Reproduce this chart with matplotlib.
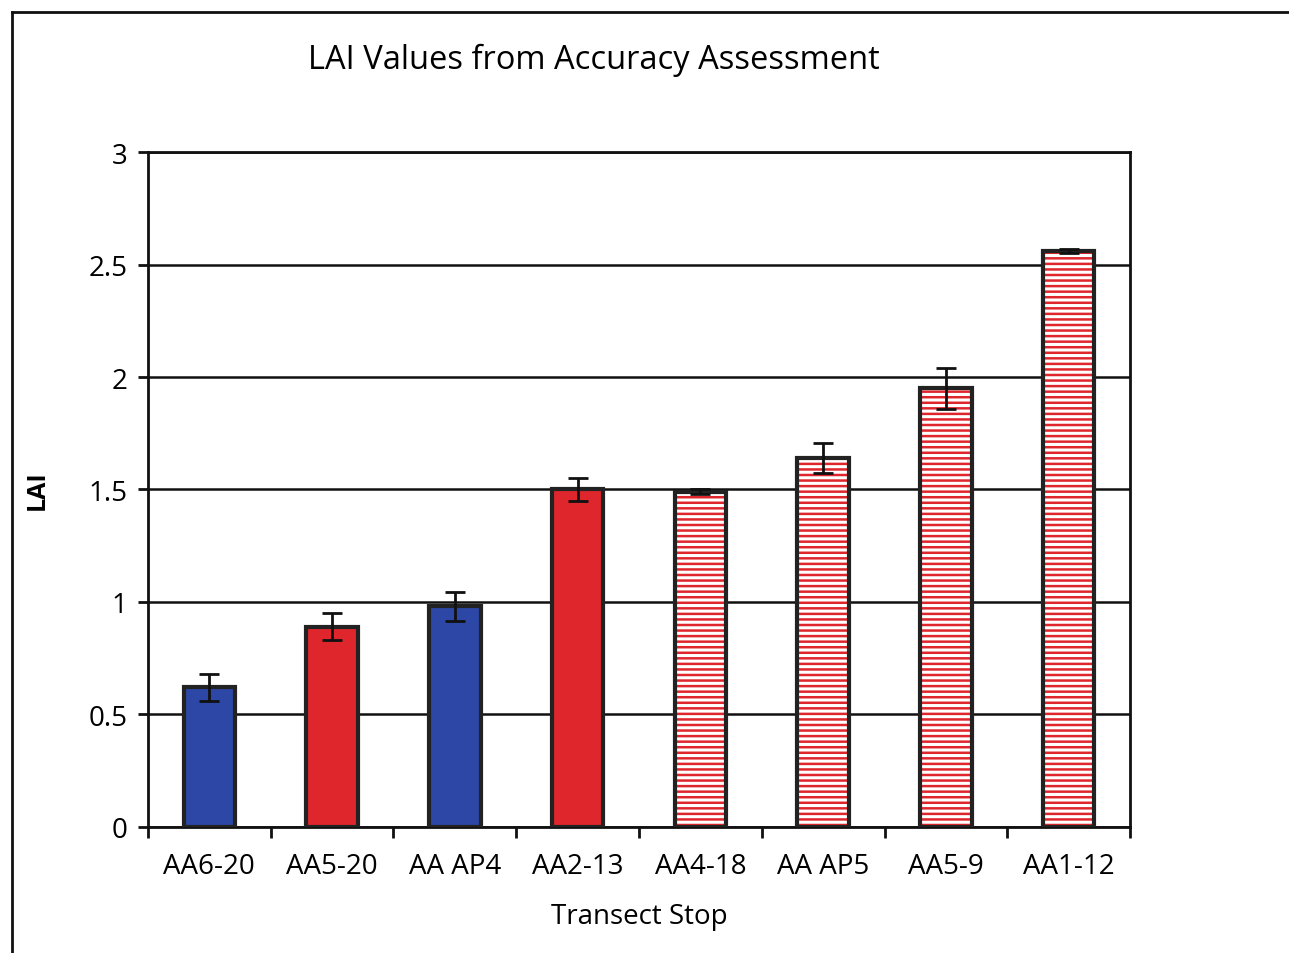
import matplotlib
matplotlib.use("Agg")
import matplotlib.pyplot as plt
from matplotlib.lines import Line2D

stops = ["AA6-20", "AA5-20", "AA AP4", "AA2-13", "AA4-18", "AA AP5", "AA5-9", "AA1-12"]
lai = [0.62, 0.89, 0.98, 1.50, 1.49, 1.64, 1.95, 2.56]
lai_err = [0.06, 0.06, 0.065, 0.05, 0.01, 0.065, 0.09, 0.01]

# fill style per bar
blue = "#2c47a6"
red = "#df262d"
fills = [blue, red, blue, red, "hatch", "hatch", "hatch", "hatch"]

plt.rcParams["font.family"] = ["Open Sans", "DejaVu Sans"]
plt.rcParams["hatch.linewidth"] = 1.8

fig = plt.figure(figsize=(12.89, 9.54), dpi=100)
ax = fig.add_axes([0.1148, 0.1321, 0.7619, 0.7075])

x = list(range(len(stops)))
w = 0.42
for i in x:
    if fills[i] == "hatch":
        ax.bar(i, lai[i], w, color="white", edgecolor=red, hatch="---", linewidth=0, zorder=3)
        ax.bar(i, lai[i], w, fill=False, edgecolor="#222222", linewidth=3, zorder=4)
    else:
        ax.bar(i, lai[i], w, color=fills[i], edgecolor="#222222", linewidth=3, zorder=3)

ax.errorbar(x, lai, yerr=lai_err, fmt="none", ecolor="#111111", elinewidth=2,
            capsize=7.5, capthick=2, zorder=5)

ax.set_xlim(-0.5, len(stops) - 0.5)
ax.set_ylim(0, 3)
ax.set_yticks([0, 0.5, 1, 1.5, 2, 2.5, 3])
ax.set_yticklabels(["0", "0.5", "1", "1.5", "2", "2.5", "3"])
ax.yaxis.grid(True, color="#111111", linewidth=1.8, zorder=0)
ax.set_axisbelow(True)

ax.set_xticks([i - 0.5 for i in range(len(stops) + 1)], minor=False)
ax.set_xticklabels([])
ax.set_xticks(x, minor=True)
ax.set_xticklabels(stops, minor=True, fontsize=20)
ax.tick_params(axis="x", which="minor", length=0, pad=18)
ax.tick_params(axis="x", which="major", length=8, width=2, direction="out", color="#111111")
ax.tick_params(axis="y", length=7, width=2, labelsize=20, pad=8, color="#111111")

for s in ax.spines.values():
    s.set_linewidth(2)
    s.set_color("#111111")

ax.set_xlabel("Transect Stop", fontsize=20, labelpad=16)
ax.set_ylabel("LAI", fontsize=18, fontweight="bold", labelpad=28)

fig.text(0.461, 0.937, "LAI Values from Accuracy Assessment", fontsize=23.5,
         ha="center", va="center")

fig.add_artist(Line2D([0.0093, 0.0093], [0.0, 0.9864], transform=fig.transFigure,
                      color="#111111", linewidth=2))
fig.add_artist(Line2D([0.0093, 1.0], [0.9864, 0.9864], transform=fig.transFigure,
                      color="#111111", linewidth=2))

fig.savefig("out.png", dpi=100)
